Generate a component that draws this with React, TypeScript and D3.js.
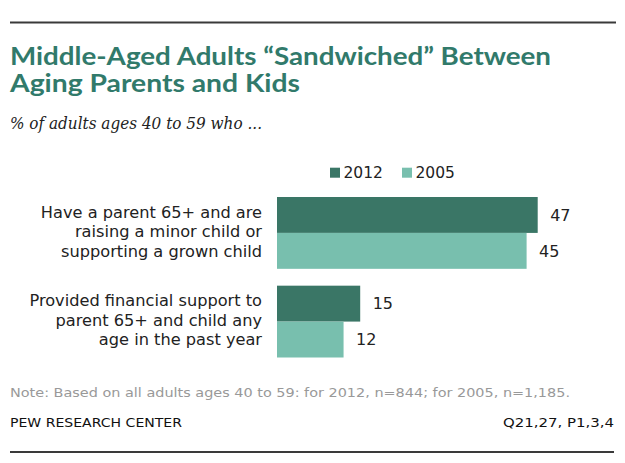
import React from "react";
import * as d3 from "d3";

const categories = ["c1", "c2"];
const categoryLines = [
  ["Have a parent 65+ and are", "raising a minor child or", "supporting a grown child"],
  ["Provided financial support to", "parent 65+ and child any", "age in the past year"],
];
const seriesNames = ["2012", "2005"];
const values2012 = [47, 15];
const values2005 = [45, 12];
const seriesColors = ["#3a7666", "#78bfae"];

const title = ["Middle-Aged Adults \u201cSandwiched\u201d Between", "Aging Parents and Kids"];
const subtitle = "% of adults ages 40 to 59 who ...";
const note = "Note: Based on all adults ages 40 to 59: for 2012, n=844; for 2005, n=1,185.";
const source = "PEW RESEARCH  CENTER";
const sourceRight = "Q21,27,  P1,3,4";

export default function App() {
  const W = 625, H = 463;
  const x = d3.scaleLinear().domain([0, 47]).range([277, 537.7]);
  const y = d3.scaleBand<string>().domain(categories).range([197, 357.5]).paddingInner(0.19);
  const inner = d3.scaleBand<string>().domain(seriesNames).range([0, y.bandwidth()]);
  const seriesValues = [values2012, values2005];
  const sans = "'DejaVu Sans', Verdana, sans-serif";

  return (
    <svg width={W} height={H} style={{ position: "absolute", left: 0, top: 0, background: "#fff" }}>
      <line x1={10} x2={616} y1={22.5} y2={22.5} stroke="#3a3a3a" strokeWidth={2} />
      {title.map((t, i) => (
        <text key={i} x={10} y={65 + i * 26.5} fill="#317a6b" fontFamily="Lato, 'Open Sans', sans-serif"
          fontWeight={700} fontSize={24}
          textLength={i === 0 ? 541 : 290} lengthAdjust="spacingAndGlyphs">{t}</text>
      ))}
      <text x={10} y={129} fontFamily="'DejaVu Serif', Georgia, serif" fontStyle="italic" fontSize={16.5}
        fill="#222" textLength={252} lengthAdjust="spacingAndGlyphs">{subtitle}</text>

      {/* legend */}
      {seriesNames.map((s, i) => {
        const lx = [330, 402][i];
        return (
          <g key={s}>
            <rect x={lx} y={167.7} width={10} height={10} fill={seriesColors[i]} />
            <text x={lx + 13.5} y={178.3} fontFamily={sans} fontSize={15.5} fill="#222">{s}</text>
          </g>
        );
      })}

      {categories.map((c, ci) => {
        const gy = y(c)!;
        const cy = gy + y.bandwidth() / 2 - 1.5;
        const lines = categoryLines[ci];
        return (
          <g key={c}>
            {lines.map((l, li) => (
              <text key={li} x={262} y={cy + (li - 1) * 19.5} dy="0.36em" textAnchor="end"
                fontFamily={sans} fontSize={16.2} fill="#222">{l}</text>
            ))}
            {seriesNames.map((s, si) => {
              const v = seriesValues[si][ci];
              const by = gy + inner(s)!;
              return (
                <g key={s}>
                  <rect x={x(0)} y={by} width={x(v) - x(0)} height={inner.bandwidth()} fill={seriesColors[si]} />
                  <text x={x(v) + 12.5} y={by + inner.bandwidth() / 2} dy="0.36em"
                    fontFamily={sans} fontSize={16} fill="#222">{v}</text>
                </g>
              );
            })}
          </g>
        );
      })}

      <text x={10} y={397} fontFamily={sans} fontSize={12.5} fill="#999" textLength={560} lengthAdjust="spacingAndGlyphs">{note}</text>
      <text x={10} y={426.7} fontFamily={sans} fontSize={13} fill="#111" textLength={172} lengthAdjust="spacingAndGlyphs">{source}</text>
      <text x={614} y={426.7} textAnchor="end" fontFamily={sans} fontSize={13} fill="#111" textLength={111} lengthAdjust="spacingAndGlyphs">{sourceRight}</text>
      <line x1={10} x2={614} y1={452} y2={452} stroke="#3a3a3a" strokeWidth={2} />
    </svg>
  );
}
